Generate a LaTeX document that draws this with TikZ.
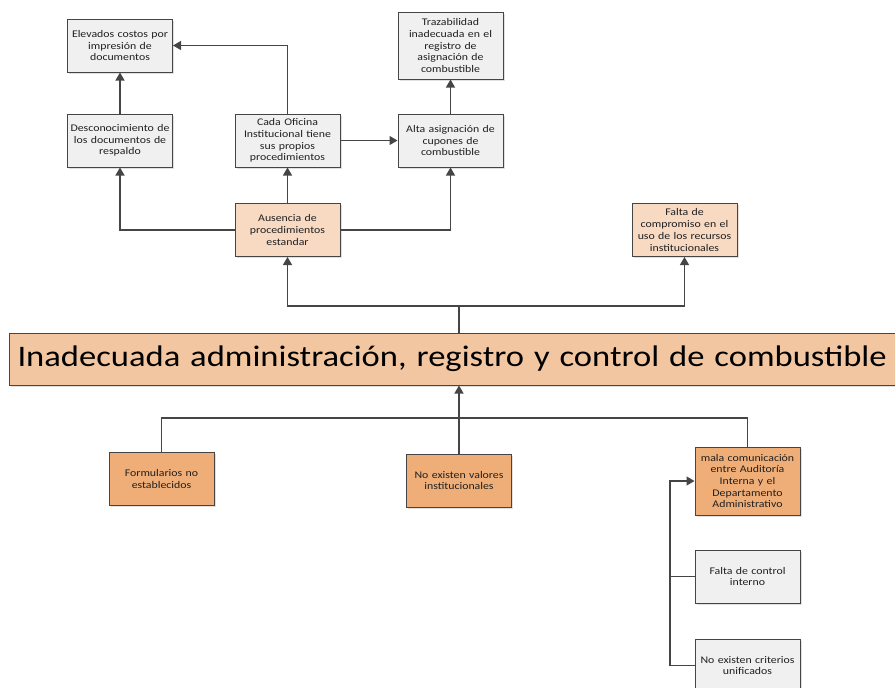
\documentclass[tikz,border=0pt]{standalone}
\usepackage{fontspec}
\setmainfont{Carlito}[FakeStretch=1.16]
\usetikzlibrary{arrows.meta,shadows}

\definecolor{boxgray}{HTML}{F0F0F0}
\definecolor{boxpeach}{HTML}{F8D9C2}
\definecolor{boxmain}{HTML}{F2C6A0}
\definecolor{boxorange}{HTML}{EFAE78}
\definecolor{edgegray}{HTML}{454545}
\definecolor{textgray}{HTML}{202020}

\tikzset{
    box/.style={draw=edgegray, line width=1pt, fill=boxgray, text=textgray,
        minimum width=105pt, minimum height=53pt, text width=100pt,
        inner xsep=2.5pt, align=center,
        font=\fontsize{10.2}{11.7}\selectfont,
        drop shadow={shadow xshift=1.5pt, shadow yshift=-1.5pt, fill=black!12, opacity=1}},
    peachbox/.style={box, fill=boxpeach},
    orangebox/.style={box, fill=boxorange},
    mainbox/.style={box, fill=boxmain, minimum height=52pt, text width=900pt,
        inner xsep=8pt, align=left, text=black,
        font=\fontsize{29.8}{34}\selectfont},
    arr/.style={draw=edgegray, line width=1.2pt, -{Triangle[width=9pt,length=8pt]}},
    lin/.style={draw=edgegray, line width=1.2pt}
}

\begin{document}
\begin{tikzpicture}[x=1pt, y=-1pt]

    % --- Page frame ---
    \useasboundingbox (0, 0) rectangle (895, 688);

    % --- Effects (upper part) ---
    % Top row
    \node[box] (elev) at (120, 45.5) {Elevados costos por\\impresión de\\documentos};
    \node[box, minimum height=67pt] (traz) at (450.5, 45.5) {Trazabilidad\\inadecuada en el\\registro de\\asignación de\\combustible};
    % Middle row
    \node[box] (desc) at (120, 140.5) {Desconocimiento de\\los documentos de\\respaldo};
    \node[box] (cada) at (287.5, 140.5) {Cada Oficina\\Institucional tiene\\sus propios\\procedimientos};
    \node[box] (alta) at (450.5, 140.5) {Alta asignación de\\cupones de\\combustible};
    % Direct effects
    \node[peachbox] (aus) at (287.5, 230) {Ausencia de\\procedimientos\\estandar};
    \node[peachbox] (comp) at (684.5, 230) {Falta de\\compromiso en el\\uso de los recursos\\institucionales};

    % --- Central problem ---
    \node[mainbox, anchor=west] (main) at (9, 359) {Inadecuada administración, registro y control de combustible};

    % --- Causes (lower part) ---
    \node[orangebox] (form) at (161.5, 479) {Formularios no\\establecidos};
    \node[orangebox] (noval) at (459, 480.5) {No existen valores\\institucionales};
    \node[orangebox, minimum height=68pt] (mala) at (747.5, 481) {mala comunicación\\entre Auditoría\\Interna y el\\Departamento\\Administrativo};
    \node[box] (fcont) at (747.5, 576.5) {Falta de control\\interno};
    \node[box] (ncrit) at (747.5, 665.5) {No existen criterios\\unificados};

    % --- Junction points ---
    \coordinate (jtop) at (459, 306);
    \coordinate (jbot) at (459, 418);
    \coordinate (bus) at (670, 481);

    % --- Connectors (upper part) ---
    \draw[lin] (main.north -| jtop) -- (jtop);
    \draw[arr] (jtop) -| (aus.south);
    \draw[arr] (jtop) -| (comp.south);
    \draw[arr] (aus.north) -- (cada.south);
    \draw[arr] (aus.west) -| (desc.south);
    \draw[arr] (aus.east) -| (alta.south);
    \draw[arr] (cada.east) -- (alta.west);
    \draw[arr] (cada.north) |- (elev.east);
    \draw[arr] (desc.north) -- (elev.south);
    \draw[arr] (alta.north) -- (traz.south);

    % --- Connectors (lower part) ---
    \draw[arr] (noval.north) -- (noval.north |- main.south);
    \draw[lin] (form.north) |- (jbot) -| (mala.north);
    \draw[arr] (ncrit.west) -| (bus) -- (mala.west);
    \draw[lin] (fcont.west) -- (fcont.west -| bus);

\end{tikzpicture}
\end{document}
